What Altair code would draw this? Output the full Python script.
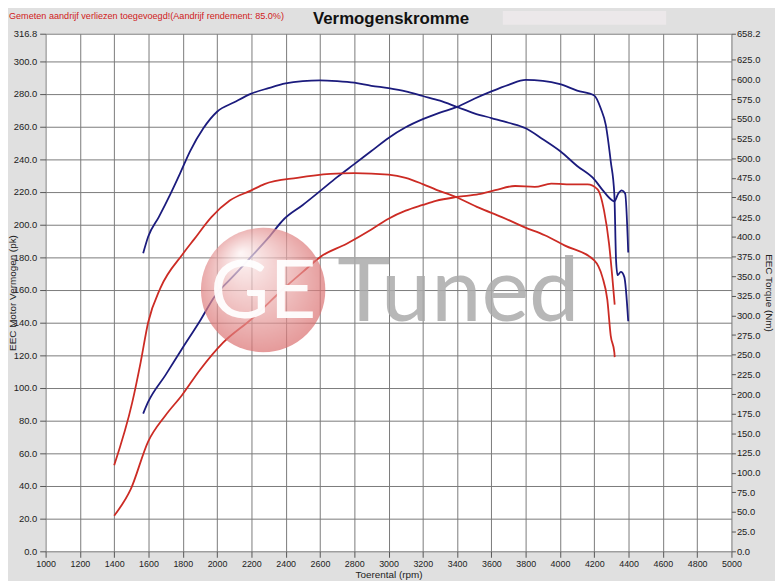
import altair as alt
import pandas as pd

# ---------------- data ----------------
# Blue run: power (pk, left axis)
blue_pw_rpm = [1569, 1598, 1700, 1794, 1900, 1986, 2100, 2198, 2300, 2391,
               2500, 2602, 2700, 2800, 2900, 3000, 3100, 3200, 3300, 3400,
               3500, 3600, 3700, 3800, 3900, 4000, 4100, 4200, 4238, 4267,
               4296, 4317, 4327, 4336, 4355, 4375, 4398]
blue_pw = [84.3, 91.4, 108, 123.7, 141, 156, 169, 180.2, 192, 203.4,
           212, 220.6, 229, 237, 245, 253, 259.5, 264.5, 268.5, 272,
           277, 281.5, 285.5, 288.5, 288, 286, 282, 279, 271, 261,
           238.7, 218.5, 178.2, 169, 171, 168, 140.8]

# Blue run: torque (Nm, right axis)
blue_tq_rpm = [1569, 1598, 1660, 1727, 1785, 1843, 1920, 2000, 2100, 2200,
               2300, 2400, 2500, 2600, 2700, 2800, 2900, 3000, 3100, 3200,
               3300, 3400, 3500, 3600, 3700, 3800, 3900, 4000, 4100, 4200,
               4250, 4300, 4317, 4340, 4360, 4380, 4398]
blue_tq = [379, 400, 425, 454, 481, 509, 538, 559, 571, 582,
           589, 595, 598, 599, 598, 596, 592, 589, 585, 579,
           573, 565, 557, 551, 545, 538, 524, 509, 490, 473,
           459, 447, 445, 455, 459, 455, 380]

# Red run: power (pk, left axis)
red_pw_rpm = [1400, 1496, 1598, 1700, 1794, 1900, 2035, 2198, 2391, 2500,
              2602, 2756, 2900, 3000, 3100, 3200, 3276, 3401, 3526, 3622,
              3738, 3853, 3949, 4085, 4161, 4219, 4257, 4286, 4305, 4319]
red_pw = [21.8, 37.9, 67.2, 83.3, 95.4, 111, 127.7, 141.9, 161, 171,
          180.2, 188.3, 197, 203.6, 208.5, 212, 214.5, 216.9, 218.6, 221,
          223.6, 223, 225, 224.6, 224.6, 221.6, 208.5, 188.3, 168, 151]

# Red run: torque (Nm, right axis)
red_tq_rpm = [1400, 1506, 1554, 1598, 1670, 1800, 1867, 1967, 2074, 2200,
              2276, 2468, 2660, 2800, 3000, 3100, 3200, 3276, 3400, 3526,
              3661, 3795, 3911, 4026, 4200, 4247, 4276, 4296, 4317, 4319]
red_tq = [109.5, 190, 240, 291, 335, 378, 397, 425, 446, 459,
          467, 475, 480, 481, 479, 475, 467, 460, 450, 437,
          425, 412, 402, 389, 370, 349, 320, 274, 253, 247]

x_ticks = list(range(1000, 5001, 200))
pk_ticks = [0, 20, 40, 60, 80, 100, 120, 140, 160, 180, 200, 220, 240, 260, 280, 300, 316.8]
nm_ticks = [0, 25, 50, 75, 100, 125, 150, 175, 200, 225, 250, 275, 300, 325, 350,
            375, 400, 425, 450, 475, 500, 525, 550, 575, 600, 625, 658.2]

TITLE = "Vermogenskromme"
NOTE = "Gemeten aandrijf verliezen toegevoegd!(Aandrijf rendement: 85.0%)"

# ---------------- styling ----------------
W, H = 693, 523
BLUE = "#1b1b7d"
RED = "#cc2b24"
FONT = "Liberation Sans"
LOGO_FONT = "Lato"
BG = "#e0e0e0"

x_enc = alt.X(
    "rpm:Q",
    scale=alt.Scale(domain=[1000, 5000], nice=False, zero=False),
    axis=alt.Axis(values=x_ticks, format="d", title="Toerental (rpm)",
                  grid=True, gridColor="#7a7a7a", gridWidth=1,
                  tickSize=6, tickColor="#555555", labelPadding=2,
                  labelFontSize=9, labelFont=FONT, labelColor="#222222",
                  labelFlush=False, labelOverlap=False, domain=False,
                  titleFont=FONT, titleFontSize=10, titleFontWeight="normal",
                  titleColor="#222222", titleY=18, titleBaseline="top"),
)

pk_scale = alt.Scale(domain=[0, 316.8], nice=False, zero=True)
nm_scale = alt.Scale(domain=[0, 658.2], nice=False, zero=True)

pk_axis = alt.Axis(values=pk_ticks, format=".1f", title="EEC Motor Vermogen (pk)",
                   grid=True, gridColor="#7a7a7a", gridWidth=1,
                   tickSize=6, tickColor="#555555", labelPadding=3,
                   labelFontSize=9.5, labelFont=FONT, labelColor="#222222",
                   labelFlush=False, labelOverlap=False, domain=False,
                   titleFont=FONT, titleFontSize=10, titleFontWeight="normal",
                   titleColor="#222222", titleX=-33, titleY=H / 2,
                   titleBaseline="middle", titleAngle=270)

nm_axis = alt.Axis(values=nm_ticks, format=".1f", title="EEC Torque (Nm)", orient="right",
                   grid=False, tickSize=4, tickColor="#555555", labelPadding=1,
                   labelFontSize=9.5, labelFont=FONT, labelColor="#222222",
                   labelFlush=False, labelOverlap=False, domain=False,
                   titleFont=FONT, titleFontSize=10, titleFontWeight="normal",
                   titleColor="#222222", titleX=37, titleY=H / 2,
                   titleBaseline="middle", titleAngle=90)

pw_df = pd.concat([
    pd.DataFrame({"rpm": blue_pw_rpm, "pk": blue_pw, "serie": "blauw"}),
    pd.DataFrame({"rpm": red_pw_rpm, "pk": red_pw, "serie": "rood"}),
])
tq_df = pd.concat([
    pd.DataFrame({"rpm": blue_tq_rpm, "nm": blue_tq, "serie": "blauw"}),
    pd.DataFrame({"rpm": red_tq_rpm, "nm": red_tq, "serie": "rood"}),
])

color_scale = alt.Scale(domain=["blauw", "rood"], range=[BLUE, RED])

power = alt.Chart(pw_df).mark_line(strokeWidth=1.8, interpolate="monotone").encode(
    x=x_enc,
    y=alt.Y("pk:Q", scale=pk_scale, axis=pk_axis),
    color=alt.Color("serie:N", scale=color_scale, legend=None),
)

torque = alt.Chart(tq_df).mark_line(strokeWidth=1.8, interpolate="monotone").encode(
    x=x_enc,
    y=alt.Y("nm:Q", scale=nm_scale, axis=nm_axis),
    color=alt.Color("serie:N", scale=color_scale, legend=None),
)

one = pd.DataFrame({"k": [0]})

logo_circle = alt.Chart(one).mark_circle(
    fill=alt.RadialGradient(
        gradient="radial",
        stops=[alt.GradientStop(offset=0, color="#fdf3f3"),
               alt.GradientStop(offset=1, color="#d65f5f")],
        x1=0.32, y1=0.2, r1=0.0, x2=0.5, y2=0.5, r2=0.6),
    opacity=0.7,
).encode(x=alt.value(219.8), y=alt.value(259), size=alt.value(15800))

logo_ge = alt.Chart(one).mark_text(
    text="GE", font=LOGO_FONT, fontWeight=400, fontSize=82, color="white",
    align="center", baseline="alphabetic", opacity=0.95,
).encode(x=alt.value(220), y=alt.value(287.3))

logo_tuned = alt.Chart(one).mark_text(
    text="Tuned", font=LOGO_FONT, fontWeight=400, fontSize=91, color="#ababab",
    align="center", baseline="alphabetic", opacity=0.85,
).encode(x=alt.value(417), y=alt.value(290.7))

top_box = alt.Chart(one).mark_rect(color="#ece8ea").encode(
    x=alt.value(462), x2=alt.value(627), y=alt.value(-23), y2=alt.value(-9))

title_txt = alt.Chart(one).mark_text(
    text=TITLE, font=FONT, fontSize=17, fontWeight="bold", color="#111111",
    align="center", baseline="top",
).encode(x=alt.value(349), y=alt.value(-23))

note_txt = alt.Chart(one).mark_text(
    text=NOTE, font=FONT, fontSize=9.2, color="#d02020",
    align="left", baseline="top",
).encode(x=alt.value(-37), y=alt.value(-22))

lines = alt.layer(power, torque).resolve_scale(y="independent")

chart = alt.layer(
    lines, logo_circle, logo_ge, logo_tuned, top_box, title_txt, note_txt
).properties(
    width=W, height=H,
    autosize=alt.AutoSizeParams(type="none"),
    padding={"left": 38, "top": 23, "right": 44, "bottom": 27},
    background=BG,
).configure_view(fill="white", strokeWidth=0)

chart.save("out.html", embed_options={"renderer": "svg", "actions": False})
